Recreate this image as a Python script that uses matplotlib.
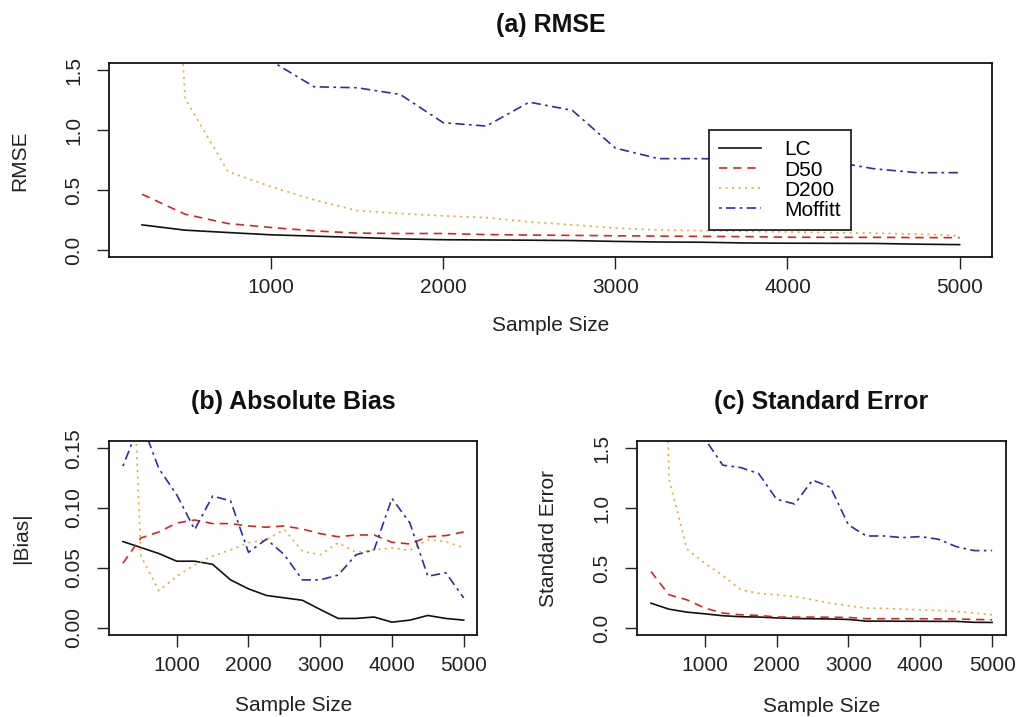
import matplotlib.pyplot as plt

plt.rcParams['font.family'] = ['Liberation Sans', 'DejaVu Sans']

# Simulation results by sample size
sample_size = [250, 500, 750, 1000, 1250, 1500, 1750, 2000, 2250, 2500,
               2750, 3000, 3250, 3500, 3750, 4000, 4250, 4500, 4750, 5000]

rmse_lc = [0.211, 0.167, 0.147, 0.128, 0.117, 0.106, 0.094, 0.087, 0.085, 0.083,
           0.080, 0.073, 0.068, 0.066, 0.060, 0.058, 0.057, 0.056, 0.050, 0.046]
rmse_d50 = [0.467, 0.300, 0.222, 0.189, 0.161, 0.142, 0.139, 0.139, 0.130, 0.126,
            0.123, 0.120, 0.117, 0.115, 0.113, 0.108, 0.107, 0.107, 0.105, 0.104]
rmse_d200 = [7.7, 1.266, 0.655, 0.530, 0.420, 0.330, 0.306, 0.286, 0.272, 0.236,
             0.211, 0.185, 0.168, 0.163, 0.157, 0.152, 0.146, 0.142, 0.134, 0.120]
rmse_moffitt = [5.0, 3.2, 2.1, 1.58, 1.364, 1.356, 1.300, 1.064, 1.036, 1.236,
                1.167, 0.852, 0.764, 0.764, 0.756, 0.764, 0.742, 0.680, 0.647, 0.647]

bias_lc = [0.072, 0.067, 0.062, 0.0556, 0.0556, 0.053, 0.040, 0.0325, 0.027, 0.025,
           0.023, 0.0153, 0.0078, 0.0078, 0.009, 0.0047, 0.0064, 0.0103, 0.0078, 0.0064]
bias_d50 = [0.054, 0.075, 0.080, 0.0875, 0.090, 0.087, 0.087, 0.085, 0.084, 0.085,
            0.0825, 0.0786, 0.076, 0.0775, 0.0775, 0.0714, 0.070, 0.076, 0.077, 0.080]
bias_d200 = [0.43, 0.060, 0.031, 0.043, 0.0525, 0.060, 0.065, 0.071, 0.0736, 0.082,
             0.064, 0.061, 0.071, 0.063, 0.065, 0.0667, 0.0647, 0.0736, 0.072, 0.0667]
bias_moffitt = [0.135, 0.173, 0.133, 0.111, 0.082, 0.110, 0.106, 0.063, 0.074, 0.061,
                0.040, 0.040, 0.044, 0.061, 0.065, 0.108, 0.0875, 0.043, 0.046, 0.025]

se_lc = [0.208, 0.158, 0.133, 0.119, 0.103, 0.095, 0.092, 0.085, 0.080, 0.078,
         0.076, 0.072, 0.058, 0.058, 0.057, 0.057, 0.056, 0.056, 0.048, 0.047]
se_d50 = [0.472, 0.278, 0.236, 0.167, 0.125, 0.111, 0.106, 0.092, 0.092, 0.092,
          0.090, 0.089, 0.078, 0.078, 0.078, 0.078, 0.076, 0.076, 0.072, 0.069]
se_d200 = [7.7, 1.25, 0.66, 0.54, 0.44, 0.32, 0.29, 0.278, 0.264, 0.236,
           0.208, 0.186, 0.167, 0.165, 0.158, 0.153, 0.147, 0.139, 0.125, 0.111]
se_moffitt = [5.0, 3.2, 2.1, 1.58, 1.36, 1.34, 1.29, 1.075, 1.036, 1.236,
              1.175, 0.861, 0.769, 0.769, 0.755, 0.764, 0.742, 0.680, 0.647, 0.647]

methods = ['LC', 'D50', 'D200', 'Moffitt']
colors = ['#111111', '#CC2A2A', '#E6B03A', '#2E2E9E']
styles = ['-', (0, (5, 3.5)), (0, (1.3, 2.6)), (0, (1.6, 2.6, 5.6, 2.6))]

x_ticks = [1000, 2000, 3000, 4000, 5000]


def draw_panel(ax, series, title, ylabel, ylim, yticks, yticklabels, ylabel_x, xlabel_y):
    for vals, col, ls, name in zip(series, colors, styles, methods):
        ax.plot(sample_size, vals, color=col, linestyle=ls, linewidth=1.2, label=name)
    ax.set_xlim(60, 5190)
    ax.set_ylim(ylim)
    ax.set_xticks(x_ticks)
    ax.set_xticklabels([str(t) for t in x_ticks])
    ax.set_yticks(yticks)
    ax.set_yticklabels(yticklabels)
    ax.tick_params(direction='out', length=8.5, width=1, labelsize=15, colors='#222222')
    ax.tick_params(axis='x', pad=6.5)
    ax.tick_params(axis='y', labelrotation=90, pad=10.5)
    for lab in ax.get_yticklabels():
        lab.set_va('center')
    for sp in ax.spines.values():
        sp.set_linewidth(1.3)
        sp.set_color('#111111')
    ax.set_xlabel('Sample Size', fontsize=15, color='#222222', va='center')
    ax.xaxis.set_label_coords(0.5, xlabel_y)
    ax.set_ylabel(ylabel, fontsize=15, color='#222222', va='center')
    ax.yaxis.set_label_coords(ylabel_x, 0.5)
    ax.text(0.5, 1.2, title, transform=ax.transAxes, ha='center', va='center',
            fontsize=18, fontweight='bold', color='#111111')


fig = plt.figure(figsize=(10.16, 7.17), dpi=100)
ax_a = fig.add_axes([0.1076, 0.6411, 0.8691, 0.2706])
ax_b = fig.add_axes([0.1076, 0.1144, 0.3622, 0.2706])
ax_c = fig.add_axes([0.6273, 0.1140, 0.3626, 0.2706])

se_ticks = [0.0, 0.5, 1.0, 1.5]
se_labels = ['0.0', '0.5', '1.0', '1.5']
bias_ticks = [0.0, 0.05, 0.10, 0.15]
bias_labels = ['0.00', '0.05', '0.10', '0.15']

draw_panel(ax_a, [rmse_lc, rmse_d50, rmse_d200, rmse_moffitt], '(a) RMSE', 'RMSE',
           (-0.06, 1.56), se_ticks, se_labels, -0.101, -0.35)
draw_panel(ax_b, [bias_lc, bias_d50, bias_d200, bias_moffitt], '(b) Absolute Bias', '|Bias|',
           (-0.006, 0.156), bias_ticks, bias_labels, -0.237, -0.366)
draw_panel(ax_c, [se_lc, se_d50, se_d200, se_moffitt], '(c) Standard Error', 'Standard Error',
           (-0.06, 1.56), se_ticks, se_labels, -0.241, -0.366)

leg = ax_a.legend(loc='upper left', bbox_to_anchor=(0.679, 0.656), fontsize=15,
                  frameon=True, fancybox=False, framealpha=1, edgecolor='#111111',
                  handlelength=2.0, handletextpad=1.1, labelspacing=0.05,
                  borderpad=0.5, borderaxespad=0)
leg.get_frame().set_linewidth(1.2)

fig.savefig('out.png', dpi=100, facecolor='white')
